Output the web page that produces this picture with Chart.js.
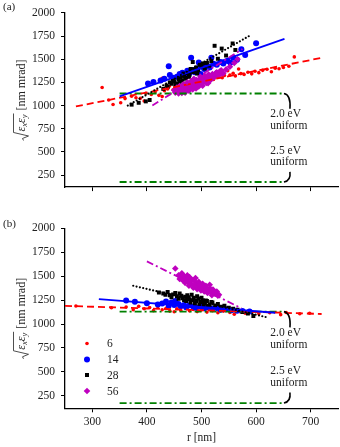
<!DOCTYPE html>
<html>
<head>
<meta charset="utf-8">
<script src="https://cdn.jsdelivr.net/npm/chart.js@4.4.0/dist/chart.umd.min.js"></script>
<style>
  body { margin: 0; background: #fff; }
  #wrap { position: relative; width: 340px; height: 447px; }
  canvas { position: absolute; left: 0; }
</style>
</head>
<body>
<div id="wrap">
  <canvas id="chartA" width="340" height="200" style="top:0"></canvas>
  <canvas id="chartB" width="340" height="247" style="top:200px"></canvas>
</div>
<script>
// axis ticks
const xTicks = [300, 400, 500, 600, 700];
const yTicks = [250, 500, 750, 1000, 1250, 1500, 1750, 2000];
const seriesNames = ['6', '14', '28', '56'];

// panel (a) points [r, emittance]
const a6 = [[318,1195],[330,1060],[338,1012],[352,1030],[360,1075],[372,1100],[380,1085],[388,1078],[395,1050],[398,1133],[408,1120],[415,1150],[422,1110],[428,1295],[428,1098],[432,1160],[438,1180],[441,1208],[448,1170],[452,1195],[458,1215],[462,1185],[468,1238],[472,1210],[478,1245],[482,1228],[488,1265],[492,1240],[498,1255],[502,1280],[508,1262],[512,1295],[518,1305],[522,1282],[528,1318],[532,1340],[538,1300],[542,1325],[548,1375],[552,1330],[558,1348],[562,1320],[568,1395],[572,1345],[578,1335],[585,1360],[592,1342],[598,1370],[605,1355],[612,1380],[620,1392],[628,1365],[635,1402],[642,1398],[650,1410],[660,1425],[670,1525]];
const a14 = [[402,1238],[412,1255],[425,1270],[432,1290],[440,1425],[442,1330],[448,1300],[455,1310],[460,1340],[465,1355],[470,1330],[474,1375],[478,1350],[481,1515],[485,1385],[488,1360],[492,1400],[495,1465],[498,1340],[500,1420],[505,1395],[510,1430],[515,1410],[518,1515],[522,1450],[528,1440],[535,1470],[540,1455],[548,1480],[553,1462],[558,1515],[565,1495],[573,1608],[580,1545],[600,1672]];
const a28 = [[372,1010],[385,1030],[398,1045],[405,1060],[430,1180],[436,1215],[438,1200],[442,1250],[445,1235],[448,1275],[450,1260],[452,1225],[455,1240],[458,1285],[460,1255],[462,1300],[465,1270],[467,1345],[468,1320],[470,1290],[472,1300],[475,1350],[477,1310],[478,1330],[480,1395],[482,1365],[484,1470],[486,1360],[488,1390],[490,1410],[492,1345],[494,1380],[497,1440],[500,1420],[503,1455],[506,1400],[510,1460],[514,1430],[518,1480],[524,1645],[530,1505],[537,1615],[545,1540],[557,1670],[562,1600]];
const a56 = [[450,1165],[452,1140],[455,1195],[456,1160],[458,1130],[460,1210],[462,1175],[464,1135],[465,1150],[467,1230],[468,1190],[470,1140],[471,1165],[472,1210],[474,1250],[475,1180],[477,1160],[478,1200],[480,1225],[481,1265],[482,1200],[484,1175],[485,1250],[486,1290],[487,1215],[489,1240],[490,1185],[491,1275],[492,1260],[494,1230],[495,1205],[497,1280],[498,1310],[499,1250],[501,1235],[502,1215],[503,1270],[504,1290],[506,1320],[507,1265],[509,1245],[510,1300],[512,1240],[513,1335],[515,1320],[516,1275],[518,1285],[520,1340],[522,1305],[524,1310],[526,1350],[528,1360],[530,1320],[532,1330],[534,1370],[536,1380],[538,1345],[540,1350],[545,1390],[552,1420],[560,1460],[566,1500]];

// panel (b) points
const b6 = [[270,1188],[335,1170],[362,1178],[375,1150],[385,1185],[395,1160],[405,1172],[412,1140],[420,1180],[428,1150],[435,1165],[442,1135],[450,1128],[455,1160],[462,1145],[470,1168],[478,1138],[485,1152],[492,1130],[500,1148],[510,1125],[520,1140],[530,1118],[540,1135],[552,1120],[560,1102],[570,1130],[580,1112],[592,1125],[605,1108],[625,1118],[645,1098],[655,1120],[680,1108],[698,1112]];
const b14 = [[362,1245],[378,1232],[400,1218],[420,1205],[428,1215],[435,1235],[440,1190],[445,1225],[450,1200],[452,1240],[458,1210],[462,1185],[468,1200],[472,1175],[478,1195],[485,1180],[490,1170],[498,1185],[505,1165],[512,1175],[520,1160],[528,1168],[535,1150],[545,1155],[555,1145],[565,1140],[575,1135],[588,1130]];
const b28 = [[422,1330],[430,1320],[434,1305],[438,1335],[442,1300],[445,1280],[448,1310],[452,1325],[455,1290],[458,1265],[460,1320],[463,1295],[465,1270],[468,1250],[470,1285],[472,1240],[474,1300],[476,1280],[478,1260],[480,1225],[482,1305],[484,1250],[486,1275],[488,1215],[490,1240],[492,1290],[494,1265],[496,1205],[498,1230],[500,1275],[502,1250],[504,1200],[506,1215],[508,1245],[510,1240],[512,1190],[515,1200],[518,1230],[520,1225],[525,1195],[530,1210],[536,1180],[542,1190],[550,1170],[558,1160],[566,1150],[575,1125],[585,1110],[595,1085]];
const b56 = [[452,1580],[458,1510],[460,1470],[462,1480],[464,1530],[466,1455],[468,1500],[470,1430],[472,1470],[474,1510],[475,1440],[477,1400],[478,1490],[480,1420],[481,1465],[483,1460],[485,1380],[486,1400],[488,1445],[489,1480],[491,1420],[492,1365],[494,1380],[495,1440],[497,1410],[499,1350],[500,1370],[502,1420],[503,1395],[505,1340],[506,1355],[508,1400],[509,1380],[511,1325],[512,1340],[515,1410],[516,1370],[518,1330],[519,1300],[521,1360],[523,1330],[525,1315],[528,1340],[530,1295],[532,1305]];

// linear fits (end points)
const fitA6 = [[270,990],[720,1515]];
const fitA14 = [[350,1100],[652,1720]];
const fitA28 = [[365,1000],[590,1760]];
const fitA56 = [[410,1000],[575,1610]];
const fitB6 = [[250,1190],[720,1105]];
const fitB14 = [[312,1260],[635,1118]];
const fitB28 = [[375,1400],[620,1070]];
const fitB56 = [[400,1655],[573,1165]];

// uniform emission references
const uniform20 = [[350,1130],[650,1130]];
const uniform25 = [[350,175],[650,175]];
const noteLabels = ['2.0 eV', 'uniform', '2.5 eV', 'uniform'];
const noteY = [910, 782, 510, 388];

const styles = {
  '6':  { color: '#ff0000', pointStyle: 'circle',  radius: 1.8, dash: [7, 4],       cap: 'butt' },
  '14': { color: '#0000ff', pointStyle: 'circle',  radius: 3,   dash: [],           cap: 'butt' },
  '28': { color: '#000000', pointStyle: 'rect',    radius: 2.8, dash: [0, 3.4],     cap: 'round' },
  '56': { color: '#bf00bf', pointStyle: 'rectRot', radius: 3.3, dash: [7, 3, 2, 3], cap: 'butt' }
};

const FONT = '"Liberation Serif", "DejaVu Serif", serif';
const toXY = arr => arr.map(p => ({ x: p[0], y: p[1] }));

function makeDatasets(points, fits) {
  const ds = [];
  seriesNames.forEach((name, i) => {
    const st = styles[name];
    ds.push({
      label: name,
      data: toXY(points[i]),
      backgroundColor: st.color,
      borderColor: st.color,
      borderWidth: 0,
      pointStyle: st.pointStyle,
      pointRadius: st.radius,
      showLine: false,
      order: 10 - i
    });
  });
  seriesNames.forEach((name, i) => {
    const st = styles[name];
    ds.push({
      label: 'fit ' + name,
      data: toXY(fits[i]),
      borderColor: st.color,
      borderWidth: name === '28' ? 2.2 : 1.8,
      borderDash: st.dash,
      borderCapStyle: st.cap,
      pointRadius: 0,
      showLine: true,
      order: 4 - i
    });
  });
  [uniform20, uniform25].forEach(u => {
    ds.push({
      label: 'uniform',
      data: toXY(u),
      borderColor: '#008000',
      borderWidth: 1.8,
      borderDash: [7, 3, 2, 3],
      pointRadius: 0,
      showLine: true,
      order: 5
    });
  });
  return ds;
}

// connectors from text to the uniform lines, plus labels and y title
const notesPlugin = {
  id: 'notes',
  afterDatasetsDraw(chart) {
    const { ctx, scales: { x, y }, chartArea } = chart;
    const px = v => x.getPixelForValue(v);
    const py = v => y.getPixelForValue(v);
    ctx.save();
    ctx.strokeStyle = '#000';
    ctx.lineWidth = 1.6;
    ctx.beginPath();
    ctx.moveTo(px(651), py(1130));
    ctx.quadraticCurveTo(px(664), py(1115), px(662), py(965));
    ctx.stroke();
    ctx.beginPath();
    ctx.moveTo(px(651), py(175));
    ctx.quadraticCurveTo(px(664), py(190), px(662), py(285));
    ctx.stroke();

    ctx.fillStyle = '#222';
    ctx.font = '11.5px ' + FONT;
    ctx.textAlign = 'left';
    ctx.textBaseline = 'middle';
    noteLabels.forEach((t, i) => ctx.fillText(t, px(626), py(noteY[i])));

    // y axis title: sqrt(eps_x eps_y) [nm mrad]
    const cy = (chartArea.top + chartArea.bottom) / 2;
    ctx.translate(22, cy);
    ctx.rotate(-Math.PI / 2);
    const big = 'italic 12px ' + FONT;
    const small = 'italic 8.5px ' + FONT;
    const rest = ' [nm mrad]';
    ctx.font = big; const we = ctx.measureText('\u03b5').width;
    ctx.font = small; const wx = ctx.measureText('x').width, wy = ctx.measureText('y').width;
    ctx.font = '12px ' + FONT; const wr = ctx.measureText(rest).width;
    const rad = 9;
    const total = rad + 2 * we + wx + wy + 1 + wr;
    let cx = -total / 2;
    ctx.lineWidth = 0.8;
    ctx.strokeStyle = '#222';
    ctx.beginPath();
    ctx.moveTo(cx, 1.5);
    ctx.lineTo(cx + 2, 0.5);
    ctx.lineTo(cx + 4.5, 6.5);
    ctx.lineTo(cx + 8, -8.5);
    ctx.lineTo(cx + rad + 2 * we + wx + wy + 1, -8.5);
    ctx.stroke();
    cx += rad;
    ctx.font = big; ctx.fillText('\u03b5', cx, 0); cx += we;
    ctx.font = small; ctx.fillText('x', cx, 3); cx += wx;
    ctx.font = big; ctx.fillText('\u03b5', cx, 0); cx += we;
    ctx.font = small; ctx.fillText('y', cx, 3); cx += wy + 1;
    ctx.font = '12px ' + FONT; ctx.fillText(rest, cx, 0);
    ctx.restore();

    // panel tag
    ctx.save();
    ctx.fillStyle = '#222';
    ctx.font = '11px ' + FONT;
    ctx.textBaseline = 'middle';
    ctx.fillText(chart.options.plugins.notes.tag, 3, chart.options.plugins.notes.tagY);
    ctx.restore();
  }
};

// legend drawn inside panel (b)
const legendPlugin = {
  id: 'innerLegend',
  afterDraw(chart) {
    if (!chart.options.plugins.innerLegend.show) return;
    const { ctx } = chart;
    const rows = [143.5, 159.5, 175, 191];
    ctx.save();
    ctx.font = '11.5px ' + FONT;
    ctx.textBaseline = 'middle';
    seriesNames.forEach((name, i) => {
      const st = styles[name];
      const mx = 87, my = rows[i];
      ctx.fillStyle = st.color;
      ctx.beginPath();
      if (st.pointStyle === 'circle') {
        ctx.arc(mx, my, st.radius, 0, Math.PI * 2);
      } else if (st.pointStyle === 'rect') {
        ctx.rect(mx - 2, my - 2, 4, 4);
      } else {
        ctx.moveTo(mx, my - st.radius); ctx.lineTo(mx + st.radius, my);
        ctx.lineTo(mx, my + st.radius); ctx.lineTo(mx - st.radius, my);
        ctx.closePath();
      }
      ctx.fill();
      ctx.fillStyle = '#222';
      ctx.fillText(name, 107, my + 0.5);
    });
    ctx.restore();
  }
};

function makeChart(id, points, fits, opts) {
  return new Chart(document.getElementById(id), {
    type: 'scatter',
    data: { datasets: makeDatasets(points, fits) },
    plugins: [notesPlugin, legendPlugin],
    options: {
      responsive: false,
      animation: false,
      layout: { autoPadding: false, padding: { left: 0, right: 2, top: opts.top, bottom: 0 } },
      plugins: {
        legend: { display: false },
        tooltip: { enabled: false },
        notes: { tag: opts.tag, tagY: opts.tagY },
        innerLegend: { show: opts.legend }
      },
      scales: {
        x: {
          type: 'linear',
          min: 250, max: 750,
          afterBuildTicks: s => { s.ticks = xTicks.map(v => ({ value: v })); },
          afterFit: s => { s.height = opts.xHeight; },
          grid: { drawOnChartArea: false, drawTicks: true, tickLength: 4, color: '#000', tickWidth: 1 },
          border: { display: true, color: '#000', width: 1.3 },
          ticks: { display: opts.xLabels, color: '#222', padding: 3, font: { family: FONT, size: 11.5 },
                   callback: v => String(v) },
          title: {
            display: opts.xLabels, text: 'r [nm]', color: '#222',
            padding: { top: 0, bottom: 2 }, font: { family: FONT, size: 11.5 }
          }
        },
        y: {
          type: 'linear',
          min: 120, max: 2000,
          afterBuildTicks: s => { s.ticks = yTicks.map(v => ({ value: v })); },
          afterFit: s => { s.width = 65; },
          grid: { drawOnChartArea: false, drawTicks: true, tickLength: 4, color: '#000', tickWidth: 1 },
          border: { display: true, color: '#000', width: 1.3 },
          ticks: { color: '#222', padding: 6, font: { family: FONT, size: 11.5 }, callback: v => String(v) }
        }
      }
    }
  });
}

makeChart('chartA', [a6, a14, a28, a56], [fitA6, fitA14, fitA28, fitA56],
  { top: 12, xHeight: 8.3, xLabels: false, tag: '(a)', tagY: 7, legend: false });
makeChart('chartB', [b6, b14, b28, b56], [fitB6, fitB14, fitB28, fitB56],
  { top: 28.3, xHeight: 38.7, xLabels: true, tag: '(b)', tagY: 24, legend: true });
</script>
</body>
</html>
